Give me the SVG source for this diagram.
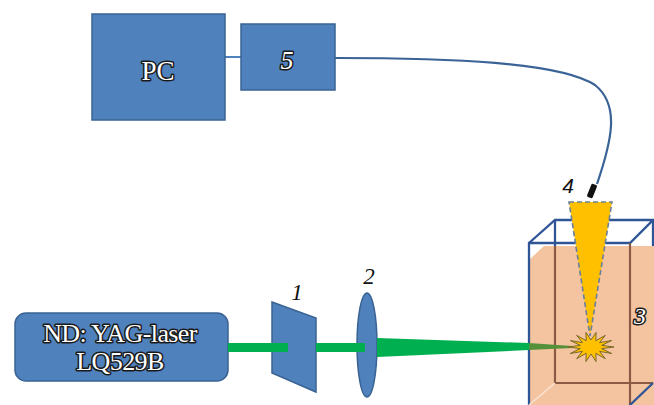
<svg xmlns="http://www.w3.org/2000/svg" width="654" height="405" viewBox="0 0 654 405">
  <defs>
    <style>
      .box { fill: #4F81BD; stroke: #3A6394; stroke-width: 1.5; }
      .beam { fill: #00B050; }
      .glass { fill: none; stroke: #2F5597; stroke-width: 2.3; }
      .wall { fill: none; stroke: #8A5A44; stroke-width: 2.2; }
      .outlined { font-family: "Liberation Serif", "Times New Roman", serif; fill: #ffffff; stroke: #1a1a1a; stroke-width: 3; paint-order: stroke; stroke-linejoin: round; text-anchor: middle; }
      .num { font-family: "Liberation Serif", "Times New Roman", serif; font-style: italic; fill: #111; font-size: 23px; text-anchor: middle; }
    </style>
  </defs>

  <!-- connectors: PC to spectrometer, optical fibre -->
  <g id="connectors" fill="none">
    <line x1="225" y1="57" x2="241" y2="57" stroke="#4F81BD" stroke-width="2"/>
    <path d="M335,58 C450,58 560,62 595,85 C620,105 612,140 597,184" stroke="#3A6397" stroke-width="2.2"/>
  </g>

  <!-- computer -->
  <g id="pc">
    <rect class="box" x="92" y="14" width="133" height="106"/>
    <text class="outlined" x="158" y="80" font-size="27">PC</text>
  </g>

  <!-- spectrometer -->
  <g id="spectrometer">
    <rect class="box" x="241" y="24" width="94" height="66"/>
    <text class="outlined" x="287" y="69" font-size="26" font-style="italic">5</text>
  </g>

  <!-- cuvette with liquid -->
  <g id="cuvette">
    <polygon points="529,260 544,246 654,246 654,405 529,405" fill="#F4C4A0"/>
    <!-- edges above the liquid -->
    <polyline class="glass" points="529,405 529,243 630,243 653,220 555,220 529,243"/>
    <line class="glass" x1="555" y1="220" x2="555" y2="246"/>
    <line class="glass" x1="653" y1="220" x2="653" y2="246"/>
    <!-- edges seen through the liquid -->
    <polyline class="wall" points="555,246 555,383 653,383"/>
    <line class="wall" x1="630" y1="243" x2="630" y2="405"/>
    <line x1="529" y1="405" x2="555" y2="383" stroke="#F8E3D2" stroke-width="1.5"/>
    <line class="glass" x1="630" y1="405" x2="653" y2="383"/>
    <text class="outlined" x="640" y="324" font-size="24" font-style="italic">3</text>
  </g>

  <!-- laser source -->
  <g id="laser">
    <rect class="box" x="15" y="313" width="213" height="68" rx="11"/>
    <text class="outlined" x="120" y="342" font-size="26" letter-spacing="-0.6">ND: YAG-laser</text>
    <text class="outlined" x="120" y="370" font-size="26" letter-spacing="-0.6">LQ529B</text>
  </g>

  <!-- attenuator -->
  <g id="attenuator">
    <polygon class="box" points="272,302 316,318 316,392 272,373"/>
    <text class="num" x="297" y="300">1</text>
  </g>

  <!-- focusing lens -->
  <g id="lens">
    <ellipse class="box" cx="367" cy="345" rx="10" ry="52"/>
    <text class="num" x="369" y="284">2</text>
  </g>

  <!-- laser beam -->
  <g id="beam">
    <rect class="beam" x="228" y="343" width="60" height="9"/>
    <rect class="beam" x="316" y="343" width="49" height="9"/>
    <polygon class="beam" points="377,338 529,343 529,350 377,357"/>
    <polygon points="529,343 572,346 572,348 529,350" fill="#55913A"/>
  </g>

  <!-- collection cone and fibre probe -->
  <g id="probe">
    <polygon points="569,202 612,202 590,336" fill="#FFC000" stroke="#6C7F99" stroke-width="1.6" stroke-dasharray="5,3"/>
    <rect x="589" y="184" width="6" height="14" rx="1.5" fill="#111" transform="rotate(22 592 191)"/>
    <text x="568" y="193" font-family="Liberation Sans, Arial, sans-serif" font-style="italic" font-size="21" fill="#111" text-anchor="middle">4</text>
  </g>

  <!-- plasma spark -->
  <g id="spark">
    <polygon points="614,347 601.7,348.6 611.7,353.5 599.6,351.4 605.3,358.7 595.8,353.3 596.1,361.6 591,354 585.9,361.6 586.2,353.3 576.7,358.7 582.4,351.4 570.3,353.5 580.3,348.6 568,347 580.3,345.4 570.3,340.5 582.4,342.6 576.7,335.3 586.2,340.7 585.9,332.4 591,340 596.1,332.4 595.8,340.7 605.3,335.3 599.6,342.6 611.7,340.5 601.7,345.4" fill="#FFC000" stroke="#7A6A2A" stroke-width="1"/>
  </g>
</svg>
